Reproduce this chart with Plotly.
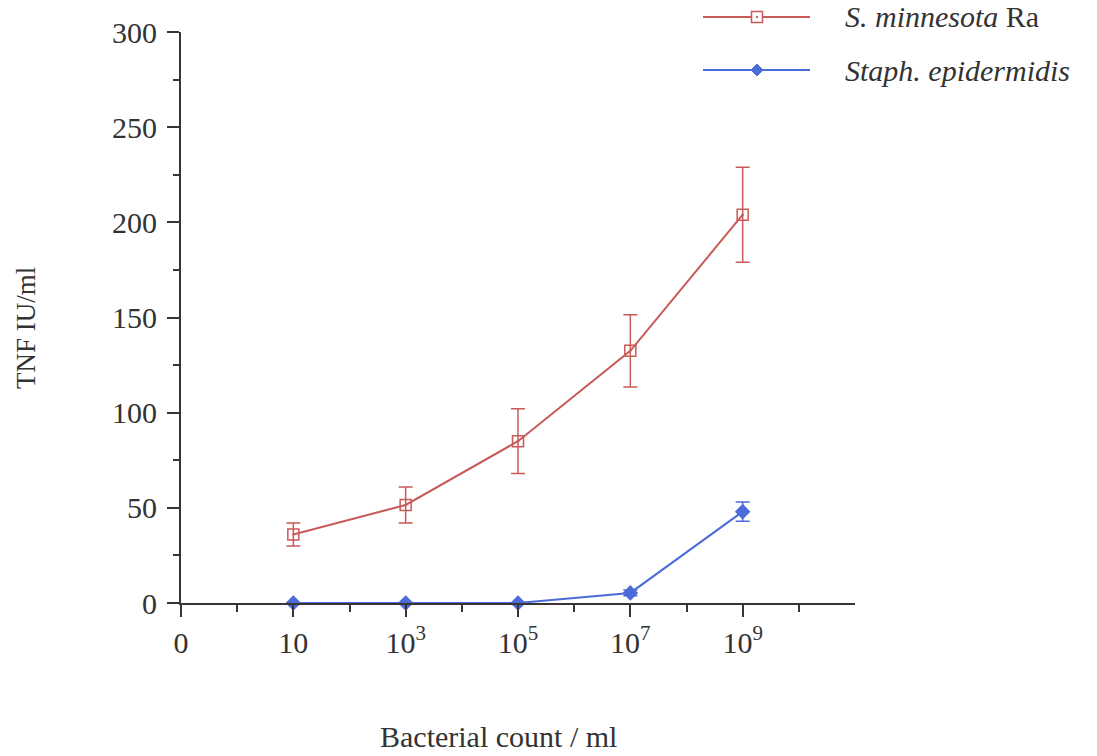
import plotly.graph_objects as go

# ---- data ----
x_pos = [1, 2, 3, 4, 5]
x_tick_vals = [0, 1, 2, 3, 4, 5]
x_tick_text = ["0", "10", "10<sup>3</sup>", "10<sup>5</sup>", "10<sup>7</sup>", "10<sup>9</sup>"]
y_tick_vals = [0, 50, 100, 150, 200, 250, 300]

minnesota_y = [36, 51.5, 85, 132.5, 204]
minnesota_err = [6, 9.5, 17, 19, 25]

staph_y = [0, 0, 0, 5.3, 48]
staph_err = [0, 0, 0, 1.5, 5]

RED = "#c85a58"
BLUE = "#4a6bd8"
AXC = "#3a3438"
TXT = "#333333"
FONT = "Liberation Serif"

fig = go.Figure()

fig.add_trace(go.Scatter(
    x=x_pos, y=minnesota_y, mode="lines+markers", name="S. minnesota Ra",
    line=dict(color=RED, width=2),
    marker=dict(symbol="square-open-dot", size=11, color=RED, line=dict(width=1.5, color=RED)),
    error_y=dict(type="data", array=minnesota_err, visible=True, color=RED, thickness=1.5, width=7),
    cliponaxis=False, showlegend=False,
))
fig.add_trace(go.Scatter(
    x=x_pos, y=staph_y, mode="lines+markers", name="Staph. epidermidis",
    line=dict(color=BLUE, width=2),
    marker=dict(symbol="diamond", size=12, color=BLUE),
    error_y=dict(type="data", array=staph_err, visible=True, color=BLUE, thickness=1.5, width=7),
    cliponaxis=False, showlegend=False,
))

L, R, T, B = 181, 242, 32, 153
W, H = 1097, 756
pw = W - L - R
ph = H - T - B

def px(xp):
    return (xp - L) / pw

def py(yp):
    return (H - B - yp) / ph

shapes = []
annotations = []
# manual legend
leg = [("<i>S. minnesota</i> Ra", RED, 17, "square"), ("<i>Staph. epidermidis</i>", BLUE, 70, "diamond")]
for text, col, yy, sym in leg:
    shapes.append(dict(type="line", xref="paper", yref="paper", x0=px(703), x1=px(810), y0=py(yy), y1=py(yy),
                       line=dict(color=col, width=2)))
    if sym == "square":
        shapes.append(dict(type="rect", xref="paper", yref="paper", xsizemode="pixel", ysizemode="pixel",
                           xanchor=px(757), yanchor=py(yy), x0=-5.5, x1=5.5, y0=-5.5, y1=5.5,
                           fillcolor="white", line=dict(color=col, width=1.5)))
        shapes.append(dict(type="circle", xref="paper", yref="paper", xsizemode="pixel", ysizemode="pixel",
                           xanchor=px(757), yanchor=py(yy), x0=-1, x1=1, y0=-1, y1=1,
                           fillcolor=col, line=dict(color=col, width=0.5)))
    else:
        shapes.append(dict(type="path", xref="paper", yref="paper", xsizemode="pixel", ysizemode="pixel",
                           xanchor=px(757), yanchor=py(yy), path="M 0,6 L 6,0 L 0,-6 L -6,0 Z",
                           fillcolor=col, line=dict(color=col, width=1)))
    annotations.append(dict(text=text, xref="paper", yref="paper", x=px(843), y=py(yy),
                            xanchor="left", yanchor="middle", showarrow=False,
                            font=dict(family=FONT, size=30, color=TXT)))

# axis titles
annotations.append(dict(text="Bacterial count / ml", xref="paper", yref="paper", x=px(498), y=py(736),
                        xanchor="center", yanchor="middle", showarrow=False,
                        font=dict(family=FONT, size=30, color=TXT)))
annotations.append(dict(text="TNF IU/ml", xref="paper", yref="paper", x=px(26), y=py(328),
                        xanchor="center", yanchor="middle", showarrow=False, textangle=-90,
                        font=dict(family=FONT, size=27, color=TXT)))

fig.update_layout(
    width=W, height=H,
    margin=dict(l=L, r=R, t=T, b=B),
    paper_bgcolor="white", plot_bgcolor="white",
    font=dict(family=FONT, size=30, color=TXT),
    shapes=shapes, annotations=annotations,
    xaxis=dict(range=[0, 6], tickmode="array", tickvals=x_tick_vals, ticktext=x_tick_text,
               showgrid=False, zeroline=False, showline=True, linecolor=AXC, linewidth=2,
               ticks="outside", ticklen=12, tickwidth=2, tickcolor=AXC,
               minor=dict(tickmode="array", tickvals=[0.5, 1.5, 2.5, 3.5, 4.5, 5.5],
                          ticks="outside", ticklen=7, tickwidth=2, tickcolor=AXC, showgrid=False),
               tickfont=dict(family=FONT, size=30, color=TXT), fixedrange=True),
    yaxis=dict(range=[0, 300], tickmode="array", tickvals=y_tick_vals,
               showgrid=False, zeroline=False, showline=True, linecolor=AXC, linewidth=2,
               ticks="outside", ticklen=12, tickwidth=2, tickcolor=AXC, ticklabelstandoff=4,
               minor=dict(tickmode="array", tickvals=[25, 75, 125, 175, 225, 275],
                          ticks="outside", ticklen=6, tickwidth=2, tickcolor=AXC, showgrid=False),
               tickfont=dict(family=FONT, size=30, color=TXT), fixedrange=True),
)

fig.write_html("out.html")
